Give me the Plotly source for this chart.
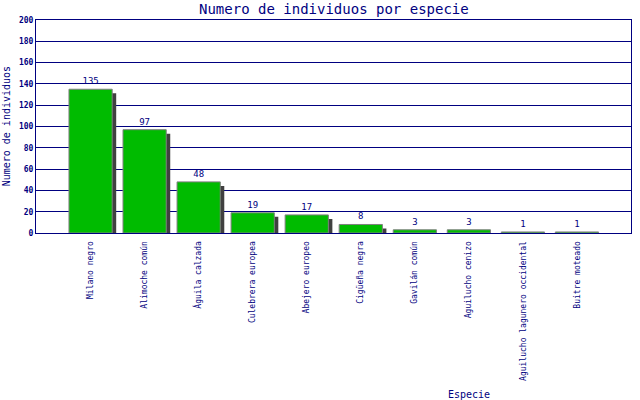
import plotly.graph_objects as go

especies = ["Milano negro", "Alimoche común", "Águila calzada", "Culebrera europea",
            "Abejero europeo", "Cigüeña negra", "Gavilán común", "Aguilucho cenizo",
            "Aguilucho lagunero occidental", "Buitre moteado"]
individuos = [135, 97, 48, 19, 17, 8, 3, 3, 1, 1]
y_ticks = [0, 20, 40, 60, 80, 100, 120, 140, 160, 180, 200]

NAVY = "#000080"
FONT = "DejaVu Sans Mono"
xpos = list(range(len(especies)))
shadow_dy = 3.76   # 4 px in y-data units
shadow_dx = 0.074  # 4 px in x-data units

fig = go.Figure()
fig.add_trace(go.Bar(
    x=xpos, y=[v - shadow_dy for v in individuos], width=0.8,
    offset=-0.4 + shadow_dx, marker=dict(color="#404040", line=dict(width=0)),
    cliponaxis=False, hoverinfo="skip", showlegend=False))
fig.add_trace(go.Bar(
    x=xpos, y=individuos, width=0.8, offset=-0.4,
    marker=dict(color="#00bb00", line=dict(color="#808080", width=1)),
    text=[str(v) for v in individuos], textposition="outside",
    textfont=dict(family=FONT, size=9, color=NAVY), cliponaxis=False,
    hoverinfo="skip", showlegend=False))

fig.update_layout(
    width=640, height=400, barmode="overlay",
    margin=dict(l=36, r=9, t=20, b=167, autoexpand=False),
    paper_bgcolor="white", plot_bgcolor="white",
    xaxis=dict(range=[-1.01, 10.0], tickvals=xpos, ticktext=especies, tickangle=-90,
               tickfont=dict(family=FONT, size=8, color=NAVY), showgrid=False,
               showline=True, linecolor=NAVY, linewidth=1, mirror=True, ticks="",
               ticklabelstandoff=4, automargin=False),
    yaxis=dict(range=[0, 200], tickvals=y_ticks, ticktext=[str(t) for t in y_ticks],
               tickfont=dict(family=FONT, size=8, color=NAVY, weight="bold"),
               showgrid=True, gridcolor=NAVY, gridwidth=1, zeroline=False,
               showline=True, linecolor=NAVY, linewidth=1, mirror=True, ticks="",
               automargin=False),
    annotations=[
        dict(text="Numero de individuos por especie", xref="paper", yref="paper",
             x=0.5, y=1.0516, xanchor="center", yanchor="middle", showarrow=False,
             font=dict(family=FONT, size=14, color=NAVY)),
        dict(text="Numero de individuos", xref="paper", yref="paper",
             x=-0.049, y=0.5, textangle=-90, xanchor="center", yanchor="middle",
             showarrow=False, font=dict(family=FONT, size=10, color=NAVY)),
        dict(text="Especie", xref="paper", yref="paper", x=0.728, y=-0.756,
             xanchor="center", yanchor="middle", showarrow=False,
             font=dict(family=FONT, size=10, color=NAVY)),
    ],
)
fig.write_html("out.html", config={"displayModeBar": False},
               post_script="document.body.style.margin='0px';")
